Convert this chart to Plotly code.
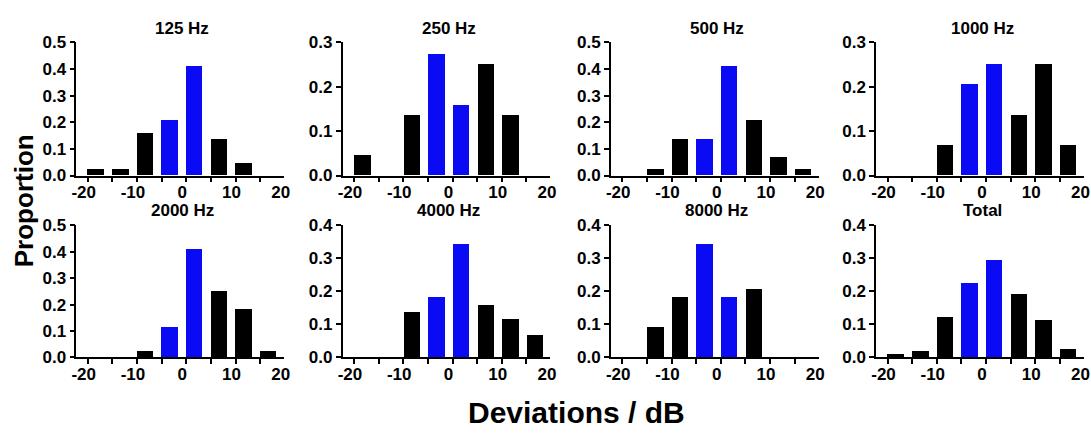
import plotly.graph_objects as go

# ---- data ----
bin_centers = [-17.5, -12.5, -7.5, -2.5, 2.5, 7.5, 12.5, 17.5]
panel_titles = ["125 Hz", "250 Hz", "500 Hz", "1000 Hz", "2000 Hz", "4000 Hz", "8000 Hz", "Total"]
hz125 = [0.023, 0.023, 0.159, 0.205, 0.409, 0.136, 0.045, 0.0]
hz250 = [0.045, 0.0, 0.136, 0.273, 0.159, 0.250, 0.136, 0.0]
hz500 = [0.0, 0.023, 0.136, 0.136, 0.409, 0.205, 0.068, 0.023]
hz1000 = [0.0, 0.0, 0.068, 0.205, 0.250, 0.136, 0.250, 0.068]
hz2000 = [0.0, 0.0, 0.023, 0.114, 0.409, 0.250, 0.182, 0.023]
hz4000 = [0.0, 0.0, 0.136, 0.182, 0.341, 0.159, 0.114, 0.068]
hz8000 = [0.0, 0.091, 0.182, 0.341, 0.182, 0.205, 0.0, 0.0]
total = [0.008, 0.018, 0.120, 0.224, 0.294, 0.190, 0.113, 0.025]
y_max = [0.5, 0.3, 0.5, 0.3, 0.5, 0.4, 0.4, 0.4]
x_tick_vals = [-20, -10, 0, 10, 20]
x_tick_text = ["-20", "-10", "0", "10", "20"]
highlight_bins = [-2.5, 2.5]

series = [hz125, hz250, hz500, hz1000, hz2000, hz4000, hz8000, total]

# ---- layout geometry (pixels) ----
W, H = 1091, 443
col_px = [(72, 282), (341, 551), (612, 822), (880, 1090)]
row_px = [(35, 174), (226, 364)]
bar_w = 3.34
x_range = [-21.5, 20.7]
FONT = "Liberation Sans, Arial, sans-serif"
BLUE = "#0a0af5"
TICK_SIZE = 17

fig = go.Figure()
annotations = []
for i, (vals, title) in enumerate(zip(series, panel_titles)):
    r, c = divmod(i, 4)
    n = i + 1
    xa = "x" if n == 1 else f"x{n}"
    ya = "y" if n == 1 else f"y{n}"
    colors = [BLUE if b in highlight_bins else "#000000" for b in bin_centers]
    fig.add_trace(go.Bar(x=bin_centers, y=vals, width=bar_w, marker=dict(color=colors, line=dict(width=0)),
                         xaxis=xa, yaxis=ya, showlegend=False))
    x0, x1 = col_px[c]
    t0, t1 = row_px[r]
    minor_ticks = [b - bar_w / 2 for b in bin_centers] + [bin_centers[-1] + 5 - bar_w / 2]
    fig.update_layout(**{
        ("xaxis" if n == 1 else f"xaxis{n}"): dict(
            domain=[x0 / W, x1 / W], anchor=ya, range=x_range,
            tickvals=x_tick_vals, ticktext=x_tick_text, ticks="",
            showline=True, linecolor="black", linewidth=1.5,
            showgrid=False, zeroline=False, fixedrange=True,
            tickfont=dict(family=FONT, size=TICK_SIZE, color="black", weight="bold"),
            minor=dict(tickvals=minor_ticks, ticks="outside", ticklen=5, tickwidth=1.5,
                       tickcolor="black", showgrid=False),
        ),
        ("yaxis" if n == 1 else f"yaxis{n}"): dict(
            domain=[(H - t1) / H, (H - t0) / H], anchor=xa, range=[0, y_max[i]],
            dtick=0.1, tickformat=".1f", ticks="outside", ticklen=5, tickwidth=1.5,
            tickcolor="black", showline=True, linecolor="black", linewidth=1.5,
            showgrid=False, zeroline=False,
            tickfont=dict(family=FONT, size=TICK_SIZE, color="black", weight="bold"),
        ),
    })
    annotations.append(dict(text=f"<b>{title}</b>", x=(x0 + x1) / 2 / W + 0.002, y=(H - t0 + 15) / H,
                            xref="paper", yref="paper", showarrow=False, xanchor="center", yanchor="middle",
                            font=dict(family=FONT, size=17, color="black")))

annotations.append(dict(text="<b>Proportion</b>", x=20 / W, y=(H - 200) / H, xref="paper", yref="paper",
                        showarrow=False, textangle=-90, xanchor="center", yanchor="middle",
                        font=dict(family=FONT, size=26, color="black")))
annotations.append(dict(text="<b>Deviations / dB</b>", x=577 / W, y=(H - 422) / H, xref="paper", yref="paper",
                        showarrow=False, xanchor="center", yanchor="middle",
                        font=dict(family=FONT, size=30, color="black")))

fig.update_layout(width=W, height=H, margin=dict(l=0, r=0, t=0, b=0),
                  plot_bgcolor="white", paper_bgcolor="white", annotations=annotations,
                  bargap=0)
fig.write_html("out.html")
